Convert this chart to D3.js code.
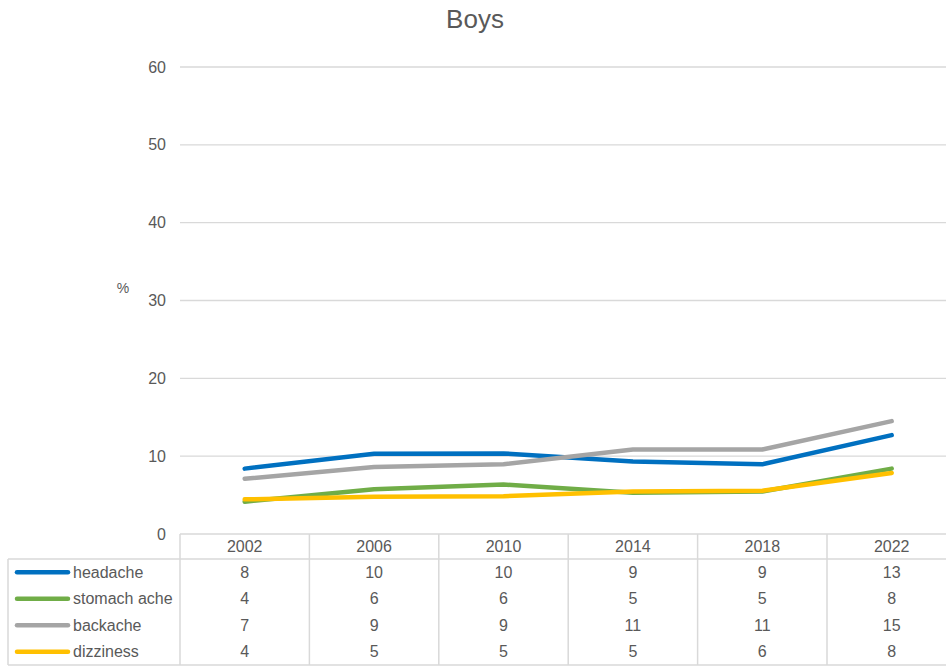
<!DOCTYPE html>
<html>
<head>
<meta charset="utf-8">
<script src="https://cdn.jsdelivr.net/npm/d3@7"></script>
<style>
  body { margin: 0; background: #fff; }
  svg { display: block; font-family: "Liberation Sans", Arial, sans-serif; }
</style>
</head>
<body>
<svg id="chart" width="946" height="666"></svg>
<script>
// chart data
const years = ['2002', '2006', '2010', '2014', '2018', '2022']
const seriesNames = ['headache', 'stomach ache', 'backache', 'dizziness']
const headache = [8.4, 10.3, 10.35, 9.3, 8.95, 12.7]
const stomachAche = [4.15, 5.75, 6.35, 5.3, 5.45, 8.4]
const backache = [7.1, 8.6, 8.95, 10.85, 10.85, 14.5]
const dizziness = [4.45, 4.8, 4.85, 5.45, 5.55, 7.85]
const tableValues = [
  [8, 10, 10, 9, 9, 13],
  [4, 6, 6, 5, 5, 8],
  [7, 9, 9, 11, 11, 15],
  [4, 5, 5, 5, 6, 8]
]
const yTicks = [0, 10, 20, 30, 40, 50, 60]
const colors = ['#0070C0', '#70AD47', '#A5A5A5', '#FFC000']

const series = [headache, stomachAche, backache, dizziness]

const svg = d3.select('#chart')
const plotLeft = 180, colW = 129.4, plotTop = 67, plotBottom = 534
const tableLeft = 8, headerBottom = 559, rowH = 26.5
const textColor = '#595959', gridColor = '#d9d9d9'

const x = d3.scaleBand().domain(years).range([plotLeft, plotLeft + colW * years.length])
const y = d3.scaleLinear().domain([0, 60]).range([plotBottom, plotTop])

// title
svg.append('text')
  .attr('x', 475).attr('y', 28)
  .attr('text-anchor', 'middle')
  .attr('font-size', 26)
  .attr('fill', textColor)
  .text('Boys')

// grid lines + y tick labels
const yAxis = svg.append('g')
yAxis.selectAll('line').data(yTicks.filter(d => d > 0)).enter().append('line')
  .attr('x1', plotLeft).attr('x2', 946)
  .attr('y1', d => y(d)).attr('y2', d => y(d))
  .attr('stroke', gridColor).attr('stroke-width', 1.3)
yAxis.selectAll('text').data(yTicks).enter().append('text')
  .attr('x', 166).attr('y', d => y(d))
  .attr('dy', '0.35em')
  .attr('text-anchor', 'end')
  .attr('font-size', 16)
  .attr('fill', textColor)
  .text(d => d)

svg.append('text')
  .attr('x', 123).attr('y', 293)
  .attr('text-anchor', 'middle')
  .attr('font-size', 14)
  .attr('fill', textColor)
  .text('%')

// data table
const tbl = svg.append('g').attr('stroke', gridColor).attr('stroke-width', 1.5)
const tableBottom = headerBottom + rowH * seriesNames.length
const plotRight = plotLeft + colW * years.length
tbl.append('line').attr('x1', plotLeft).attr('x2', plotRight).attr('y1', plotBottom).attr('y2', plotBottom)
tbl.append('line').attr('x1', tableLeft).attr('x2', plotRight).attr('y1', headerBottom).attr('y2', headerBottom)
tbl.append('line').attr('x1', tableLeft).attr('x2', plotRight).attr('y1', tableBottom).attr('y2', tableBottom)
tbl.append('line').attr('x1', tableLeft).attr('x2', tableLeft).attr('y1', headerBottom).attr('y2', tableBottom)
tbl.selectAll('.vline').data(years).enter().append('line')
  .attr('class', 'vline')
  .attr('x1', d => x(d)).attr('x2', d => x(d))
  .attr('y1', plotBottom).attr('y2', tableBottom)

svg.selectAll('.yearLabel').data(years).enter().append('text')
  .attr('class', 'yearLabel')
  .attr('x', d => x(d) + x.bandwidth() / 2)
  .attr('y', (plotBottom + headerBottom) / 2)
  .attr('dy', '0.35em')
  .attr('text-anchor', 'middle')
  .attr('font-size', 16)
  .attr('fill', textColor)
  .text(d => d)

const rows = svg.selectAll('.row').data(seriesNames).enter().append('g')
  .attr('class', 'row')
  .attr('transform', (d, i) => 'translate(0,' + (headerBottom + rowH * i + rowH / 2) + ')')

rows.append('line')
  .attr('x1', 17).attr('x2', 68)
  .attr('stroke', (d, i) => colors[i])
  .attr('stroke-width', 4.5)
  .attr('stroke-linecap', 'round')
rows.append('text')
  .attr('x', 73).attr('dy', '0.35em')
  .attr('font-size', 16)
  .attr('fill', textColor)
  .text(d => d)
rows.each(function (d, i) {
  d3.select(this).selectAll('.val').data(tableValues[i]).enter().append('text')
    .attr('class', 'val')
    .attr('x', (v, j) => x(years[j]) + x.bandwidth() / 2)
    .attr('dy', '0.35em')
    .attr('text-anchor', 'middle')
    .attr('font-size', 16)
    .attr('fill', textColor)
    .text(v => v)
})

// lines
const line = d3.line()
  .x((d, i) => x(years[i]) + x.bandwidth() / 2)
  .y(d => y(d))

svg.selectAll('.series').data(series).enter().append('path')
  .attr('class', 'series')
  .attr('d', line)
  .attr('fill', 'none')
  .attr('stroke', (d, i) => colors[i])
  .attr('stroke-width', 4.5)
  .attr('stroke-linecap', 'round')
  .attr('stroke-linejoin', 'round')
</script>
</body>
</html>
